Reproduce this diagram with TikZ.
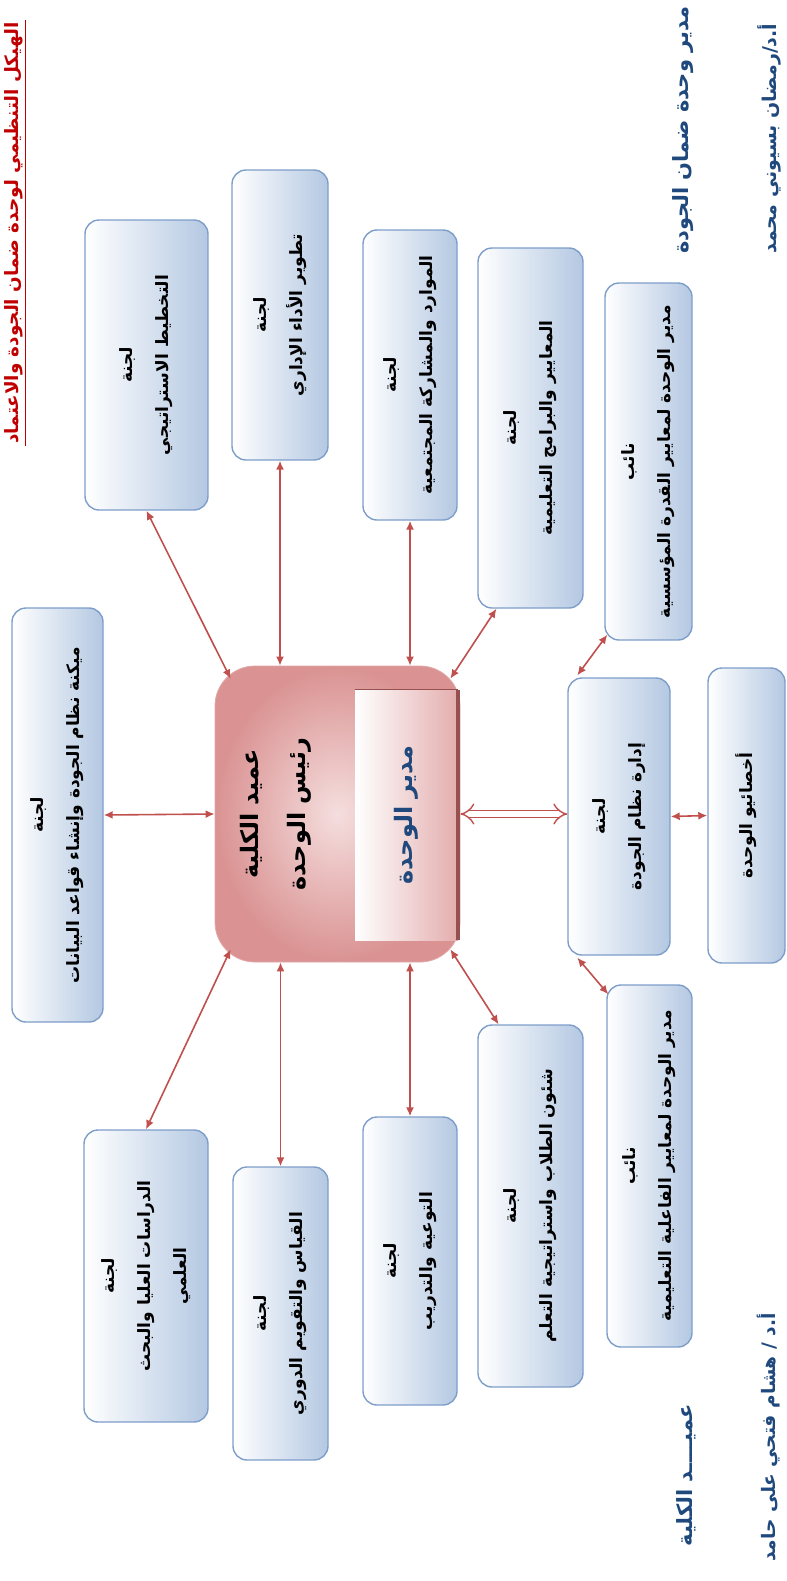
\documentclass[tikz,border=0pt]{standalone}
\usepackage{fontspec}
\usetikzlibrary{arrows.meta,calc,positioning}
\TeXXeTstate=1
\newfontfamily\arabicfont[Script=Arabic]{DejaVu Sans}
\newcommand{\rl}[1]{\beginR #1\endR}
\definecolor{linkred}{RGB}{192,80,77}
\definecolor{boxblue}{RGB}{180,200,226}
\definecolor{boxedge}{RGB}{126,158,202}
\definecolor{chiefpink}{RGB}{218,146,146}
\definecolor{chieflight}{RGB}{245,222,222}
\definecolor{chiefdark}{RGB}{150,80,80}
\definecolor{signblue}{RGB}{31,73,125}
\definecolor{titlered}{RGB}{192,0,0}

\begin{document}
\begin{tikzpicture}
        [
            x=0.5pt, y=-0.5pt,
            cmte/.style={rectangle, rounded corners=7pt, draw=boxedge, line width=0.7pt, left color=white, right color=boxblue, rotate=90, align=center, inner sep=2pt, font=\arabicfont\bfseries\fontsize{8.5}{18}\selectfont},
            link/.style={{Latex[length=4.5pt,width=4pt]}-{Latex[length=4.5pt,width=4pt]}, draw=linkred, line width=0.8pt},
            sign/.style={rotate=90, text=signblue, inner sep=0pt, font=\arabicfont\bfseries\fontsize{10.5}{12}\selectfont},
        ]
            \useasboundingbox (0,0) rectangle (787,1581);

            % title
            \node[rotate=90, anchor=west, text=titlered, inner sep=1pt, font=\arabicfont\bfseries\fontsize{9.2}{11}\selectfont] (title) at (14,446) {\rl{الهيكل التنظيمي لوحدة ضمان الجودة والاعتماد}};
            \draw[titlered, line width=0.8pt] (title.south west) -- (title.south east);

            % centre
            \node[draw=chiefpink!80, rounded corners=20pt, inner color=chieflight, outer color=chiefpink, minimum width=122.5pt, minimum height=148pt] (chief) at (337.5,814) {};
            \node[rotate=90, left color=white, right color=chiefpink!75, minimum width=125pt, minimum height=51.5pt, text=signblue, font=\arabicfont\bfseries\fontsize{12}{14}\selectfont] (mgr) at (406.5,815) {\rl{مدير الوحدة}};
            \draw[chiefdark, line width=2pt] (mgr.south west) -- (mgr.south east);
            \draw[chiefdark, line width=0.5pt] (mgr.north east) -- (mgr.south east);
            \node[rotate=90, align=center, font=\arabicfont\bfseries\fontsize{12}{23.5}\selectfont] (dean) at (276,814) {\rl{عميد الكلية}\\\rl{رئيس الوحدة}};

            % committees
            \node[cmte, minimum width=145pt, minimum height=61.5pt] (strat) at (146.5,365) {\rl{لجنة}\\\rl{التخطيط الاستراتيجي}};
            \node[cmte, minimum width=145pt, minimum height=48pt] (admdev) at (280,315) {\rl{لجنة}\\\rl{تطوير الأداء الإداري}};
            \node[cmte, minimum width=145pt, minimum height=47pt] (resour) at (410,375) {\rl{لجنة}\\\rl{الموارد والمشاركة المجتمعية}};
            \node[cmte, minimum width=180pt, minimum height=52.5pt] (stdprog) at (530.5,428) {\rl{لجنة}\\\rl{المعايير والبرامج التعليمية}};
            \node[cmte, minimum width=178.5pt, minimum height=43.5pt] (depinst) at (648.5,461.5) {\rl{نائب}\\\rl{مدير الوحدة لمعايير القدرة المؤسسية}};
            \node[cmte, minimum width=207pt, minimum height=45.5pt] (autom) at (57.5,815) {\rl{لجنة}\\\rl{ميكنة نظام الجودة وإنشاء قواعد البيانات}};
            \node[cmte, minimum width=138.5pt, minimum height=51pt] (qms) at (619,816.5) {\rl{لجنة}\\\rl{إدارة نظام الجودة}};
            \node[cmte, minimum width=147.5pt, minimum height=38.5pt] (staff) at (746.5,815.5) {\rl{أخصائيو الوحدة}};
            \node[cmte, minimum width=146pt, minimum height=62pt] (grad) at (146,1276) {\rl{لجنة}\\\rl{الدراسات العليا والبحث}\\\rl{العلمي}};
            \node[cmte, minimum width=146.5pt, minimum height=47.5pt] (assess) at (280.5,1313.5) {\rl{لجنة}\\\rl{القياس والتقويم الدوري}};
            \node[cmte, minimum width=144pt, minimum height=47pt] (aware) at (410,1261) {\rl{لجنة}\\\rl{التوعية والتدريب}};
            \node[cmte, minimum width=181pt, minimum height=52.5pt] (students) at (530.5,1206) {\rl{لجنة}\\\rl{شئون الطلاب واستراتيجية التعلم}};
            \node[cmte, minimum width=181pt, minimum height=42.5pt] (depeff) at (649.5,1166) {\rl{نائب}\\\rl{مدير الوحدة لمعايير الفاعلية التعليمية}};

            % signatures
            \node[sign, anchor=east] (unitmgr) at (683,6) {\rl{مدير وحدة ضمان الجودة}};
            \node[sign, anchor=west, font=\arabicfont\bfseries\fontsize{9.5}{12}\selectfont] (mgrname) at (769,254) {\rl{أ.د/رمضان بسيوني محمد}};
            \node[sign, anchor=west] (deantitle) at (686,1547) {\rl{عميــــد الكلية}};
            \node[sign, anchor=east, font=\arabicfont\bfseries\fontsize{9.3}{12}\selectfont] (deanname) at (769,1313) {\rl{أ.د / هشام فتحي على حامد}};

            % links
            \draw[link] (strat.west) -- ($(chief.north west)+(16,13)$);
            \draw[link] (admdev.west) -- (admdev.west |- chief.north);
            \draw[link] (resour.west) -- (resour.west |- chief.north);
            \draw[link] ($(stdprog.north west)!0.18!(stdprog.south west)$) -- ($(chief.north east)+(-10,13)$);
            \draw[link] (autom.south) -- (chief.west);
            \draw[link] (grad.east) -- ($(chief.south west)+(16,-13)$);
            \draw[link] (assess.east) -- (assess.east |- chief.south);
            \draw[link] (aware.east) -- (aware.east |- chief.south);
            \draw[link] ($(students.north east)!0.2!(students.south east)$) -- ($(chief.south east)+(-10,-13)$);
            \draw[draw=linkred, line width=0.7pt, double=white, double distance=3pt, {Implies}-{Implies}] (chief.east) -- (chief.east -| qms.north);
            \draw[link] (qms.south) -- (staff.north);
            \draw[link] ($(qms.north east)+(10,-2)$) -- ($(depinst.north west)+(3,-6)$);
            \draw[link] ($(qms.north west)+(10,2)$) -- ($(depeff.north east)+(2,10)$);
        \end{tikzpicture}
\end{document}
